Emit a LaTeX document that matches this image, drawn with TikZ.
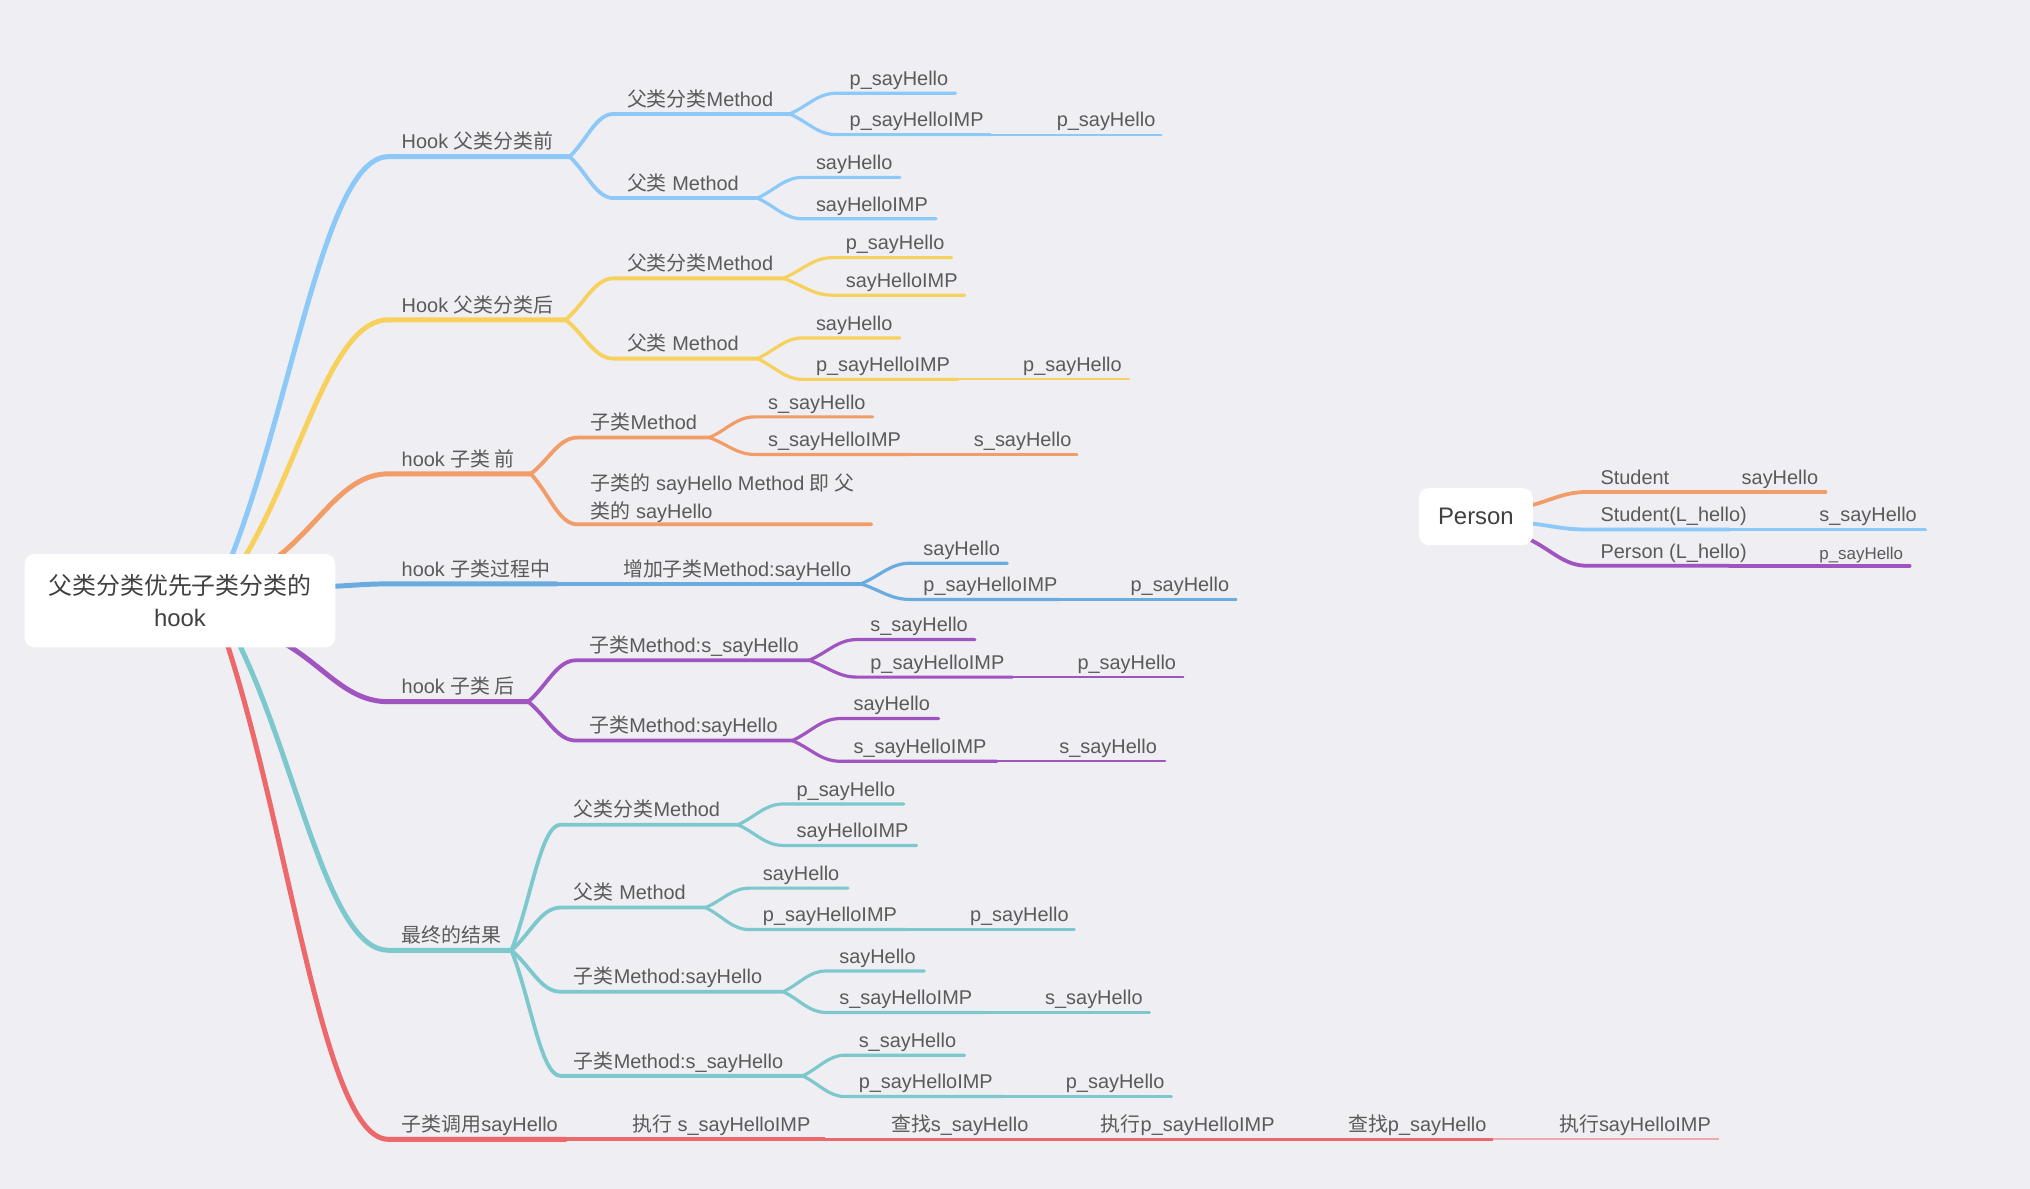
\documentclass[tikz,border=0pt]{standalone}
\usepackage{fontspec}
\setmainfont{Liberation Sans}
\newfontfamily\cjk{Noto Sans CJK SC}
\usetikzlibrary{calc}
\definecolor{bg}{HTML}{EEEEF3}
\definecolor{txt}{HTML}{5A5A5A}
\definecolor{txtd}{HTML}{404040}
\definecolor{cA}{HTML}{8CC9F9}
\definecolor{cB}{HTML}{F8D05C}
\definecolor{cC}{HTML}{F29C68}
\definecolor{cD}{HTML}{6AACE0}
\definecolor{cE}{HTML}{A054C0}
\definecolor{cF}{HTML}{7DC8CD}
\definecolor{cG}{HTML}{EC686A}
\definecolor{cGl}{HTML}{F0A8A8}
\newcommand\zh[1]{{\cjk #1}}
% style, parent, name, label x, line y, end x, text
\newcommand\mmbr[7]{%
 \coordinate (#3s) at ({#4-10},#5);
 \coordinate (#3e) at (#6,#5);
 \node[lbl] (#3) at (#4,{#5-6}) {#7};
 \draw[#1] let \p1=(#2), \p2=(#3s) in (#2) .. controls ({(\x1)+0.4*((\x2)-(\x1))},{(\y1)+0.4*((\y2)-(\y1))}) and ({(\x1)+0.6*((\x2)-(\x1))},\y2) .. (#3s) -- (#3e);
}
\newcommand\mmtrail[7]{%
 \coordinate (#3e) at (#6,#5);
 \node[lbl] (#3) at (#4,{#5-6}) {#7};
 \draw[#1] (#2) -- (#3e);
}
\tikzset{
 lbl/.style={anchor=base west, inner sep=0pt, font=\fontsize{10}{12}\selectfont, text=txt},
 l1/.style={line width=2.5pt, line cap=round},
 l2/.style={line width=1.9pt, line cap=round},
 l3/.style={line width=1.6pt, line cap=round},
 l4/.style={line width=1.1pt, line cap=round},
 lp/.style={line width=1.9pt, line cap=round},
 rootbox/.style={fill=white, rounded corners=5pt, align=center, text=txtd, inner sep=0pt},
}
\begin{document}
\begin{tikzpicture}[x=0.65pt,y=-0.65pt]
\useasboundingbox[fill=bg] (0,0) rectangle (1568,918);
% root branch starts
\coordinate (rA) at (178,432);
\coordinate (rB) at (188,432);
\coordinate (rC) at (212,432);
\coordinate (rD) at (255,453);
\coordinate (rE) at (218,496);
\coordinate (rF) at (184,496);
\coordinate (rG) at (175,496);
% A
\mmbr{cA,l1}{rA}{A}{310}{121}{440}{Hook \zh{父类分类前}}
\mmbr{cA,l2}{Ae}{A1}{484}{88}{610}{\zh{父类分类}Method}
\mmbr{cA,l3}{A1e}{A11}{656}{72}{738}{p\_sayHello}
\mmbr{cA,l3}{A1e}{A12}{656}{104}{765}{p\_sayHelloIMP}
\mmtrail{cA,l4}{A12e}{A12t}{816}{104}{897}{p\_sayHello}
\mmbr{cA,l2}{Ae}{A2}{484}{153}{585}{\zh{父类} Method}
\mmbr{cA,l3}{A2e}{A21}{630}{137}{695}{sayHello}
\mmbr{cA,l3}{A2e}{A22}{630}{169}{723}{sayHelloIMP}
% B
\mmbr{cB,l1}{rB}{B}{310}{247}{437}{Hook \zh{父类分类后}}
\mmbr{cB,l2}{Be}{B1}{484}{215}{605}{\zh{父类分类}Method}
\mmbr{cB,l3}{B1e}{B11}{653}{199}{735}{p\_sayHello}
\mmbr{cB,l3}{B1e}{B12}{653}{228}{745}{sayHelloIMP}
\mmbr{cB,l2}{Be}{B2}{484}{277}{585}{\zh{父类} Method}
\mmbr{cB,l3}{B2e}{B21}{630}{261}{695}{sayHello}
\mmbr{cB,l3}{B2e}{B22}{630}{293}{740}{p\_sayHelloIMP}
\mmtrail{cB,l4}{B22e}{B22t}{790}{293}{872}{p\_sayHello}
% C
\mmbr{cC,l1}{rC}{C}{310}{366}{410}{hook \zh{子类 前}}
\mmbr{cC,l2}{Ce}{C1}{456}{338}{548}{\zh{子类}Method}
\mmbr{cC,l3}{C1e}{C11}{593}{322}{674}{s\_sayHello}
\mmbr{cC,l3}{C1e}{C12}{593}{351}{703}{s\_sayHelloIMP}
\mmtrail{cC,l4}{C12e}{C12t}{752}{351}{832}{s\_sayHello}
\coordinate (C2s) at (446,405);
\coordinate (C2e) at (673,405);
\node[lbl, anchor=south west, align=left, font=\fontsize{10}{14.3}\selectfont] (C2) at (456,404) {\zh{子类的} sayHello Method \zh{即 父}\\\zh{类的} sayHello};
\draw[cC,l2] let \p1=(Ce), \p2=(C2s) in (Ce) .. controls ({(\x1)+0.4*((\x2)-(\x1))},{(\y1)+0.4*((\y2)-(\y1))}) and ({(\x1)+0.6*((\x2)-(\x1))},\y2) .. (C2s) -- (C2e);
% D
\mmbr{cD,l1}{rD}{D}{310}{451}{430}{hook \zh{子类过程中}}
\mmtrail{cD,l2}{De}{D1}{481}{451}{665}{\zh{增加子类}Method:sayHello}
\mmbr{cD,l3}{D1e}{D11}{713}{435}{778}{sayHello}
\mmbr{cD,l3}{D1e}{D12}{713}{463}{818}{p\_sayHelloIMP}
\mmtrail{cD,l4}{D12e}{D12t}{873}{463}{955}{p\_sayHello}
% E
\mmbr{cE,l1}{rE}{E}{310}{542}{408}{hook \zh{子类 后}}
\mmbr{cE,l2}{Ee}{E1}{455}{510}{625}{\zh{子类}Method:s\_sayHello}
\mmbr{cE,l3}{E1e}{E11}{672}{494}{753}{s\_sayHello}
\mmbr{cE,l3}{E1e}{E12}{672}{523}{782}{p\_sayHelloIMP}
\mmtrail{cE,l4}{E12e}{E12t}{832}{523}{914}{p\_sayHello}
\mmbr{cE,l2}{Ee}{E2}{455}{572}{612}{\zh{子类}Method:sayHello}
\mmbr{cE,l3}{E2e}{E21}{659}{555}{725}{sayHello}
\mmbr{cE,l3}{E2e}{E22}{659}{588}{770}{s\_sayHelloIMP}
\mmtrail{cE,l4}{E22e}{E22t}{818}{588}{900}{s\_sayHello}
% F
\mmbr{cF,l1}{rF}{F}{310}{734}{395}{\zh{最终的结果}}
\mmbr{cF,l2}{Fe}{F1}{443}{637}{570}{\zh{父类分类}Method}
\mmbr{cF,l3}{F1e}{F11}{615}{621}{698}{p\_sayHello}
\mmbr{cF,l3}{F1e}{F12}{615}{653}{708}{sayHelloIMP}
\mmbr{cF,l2}{Fe}{F2}{443}{701}{545}{\zh{父类} Method}
\mmbr{cF,l3}{F2e}{F21}{589}{686}{655}{sayHello}
\mmbr{cF,l3}{F2e}{F22}{589}{718}{700}{p\_sayHelloIMP}
\mmtrail{cF,l4}{F22e}{F22t}{749}{718}{830}{p\_sayHello}
\mmbr{cF,l2}{Fe}{F3}{443}{766}{605}{\zh{子类}Method:sayHello}
\mmbr{cF,l3}{F3e}{F31}{648}{750}{714}{sayHello}
\mmbr{cF,l3}{F3e}{F32}{648}{782}{760}{s\_sayHelloIMP}
\mmtrail{cF,l4}{F32e}{F32t}{807}{782}{888}{s\_sayHello}
\mmbr{cF,l2}{Fe}{F4}{443}{831}{620}{\zh{子类}Method:s\_sayHello}
\mmbr{cF,l3}{F4e}{F41}{663}{815}{745}{s\_sayHello}
\mmbr{cF,l3}{F4e}{F42}{663}{847}{775}{p\_sayHelloIMP}
\mmtrail{cF,l4}{F42e}{F42t}{823}{847}{905}{p\_sayHello}
% G
\mmbr{cG,l1}{rG}{G}{310}{880}{437}{\zh{子类调用}sayHello}
\mmtrail{cG,line width=2.1pt}{Ge}{G1}{488}{880}{637}{\zh{执行} s\_sayHelloIMP}
\mmtrail{cG,line width=1.8pt}{G1e}{G2}{688}{880}{800}{\zh{查找}s\_sayHello}
\mmtrail{cG,line width=1.5pt}{G2e}{G3}{850}{880}{990}{\zh{执行}p\_sayHelloIMP}
\mmtrail{cG,line width=1.2pt}{G3e}{G4}{1041}{880}{1153}{\zh{查找}p\_sayHello}
\mmtrail{cGl,line width=1.0pt}{G4e}{G5}{1204}{880}{1328}{\zh{执行}sayHelloIMP}
% root
\node[rootbox, minimum width=156pt, minimum height=46.8pt, font=\fontsize{12}{16.25}\selectfont] (root) at (139,464) {\zh{父类分类优先子类分类的}\\hook};
% Person
\coordinate (pO) at (1180,391);
\coordinate (pB) at (1180,404);
\coordinate (pP) at (1180,416);
\mmbr{cC,lp}{pO}{P1}{1236}{380}{1295}{Student}
\mmtrail{cC,lp}{P1e}{P1t}{1345}{380}{1410}{sayHello}
\mmbr{cA,lp}{pB}{P2}{1236}{409}{1336}{Student(L\_hello)}
\mmtrail{cA,lp}{P2e}{P2t}{1405}{409}{1487}{s\_sayHello}
\mmbr{cE,lp}{pP}{P3}{1236}{437}{1336}{Person (L\_hello)}
\coordinate (P3te) at (1475,437);
\node[lbl, font=\fontsize{8.5}{10}\selectfont] (P3t) at (1405,432) {p\_sayHello};
\draw[cE,lp] (P3e) -- (P3te);
\node[rootbox, minimum width=57.2pt, minimum height=28.6pt, font=\fontsize{12}{14}\selectfont] (person) at (1140,399) {Person};
\end{tikzpicture}
\end{document}
